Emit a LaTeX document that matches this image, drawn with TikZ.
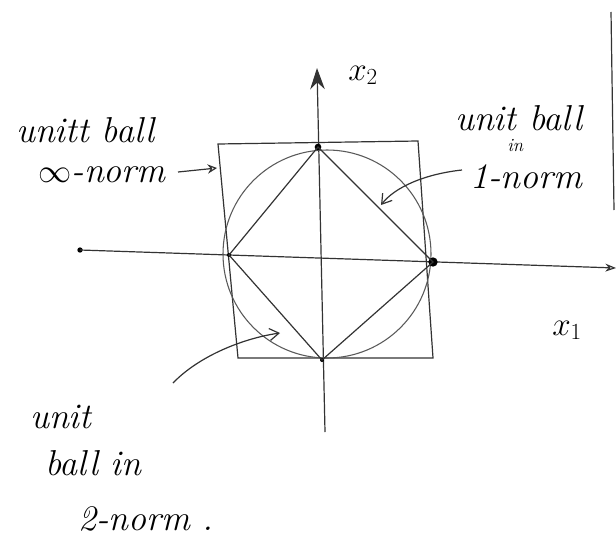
\documentclass[tikz,border=0pt]{standalone}
\usetikzlibrary{arrows.meta}
\begin{document}
\begin{tikzpicture}[x=0.75pt,y=-0.75pt,
  ink/.style={draw=black!80, line width=0.9pt},
  lbl/.style={font=\fontsize{27}{30}\selectfont\itshape, inner sep=0pt, anchor=base west},
  pt/.style={circle, fill=black, inner sep=0pt, minimum size=5pt}]
\useasboundingbox (0,0) rectangle (616,542);
% axes
\coordinate (xs) at (80,250);
\coordinate (xe) at (616,268);
\coordinate (ys) at (325,432);
\coordinate (ye) at (317,68);
\fill (xs) circle (2pt);
\draw[ink, -{Stealth[length=8pt,width=6pt,open]}] (xs) -- (xe);
\draw[ink, -{Stealth[length=16pt,width=11pt]}] (ys) -- (ye);
\node[lbl] (x1) at (552,335) {$x_1$};
\node[lbl] (x2) at (348,80) {$x_2$};
% square (infinity-norm ball)
\coordinate (s1) at (218,144);
\coordinate (s2) at (418,141);
\coordinate (s3) at (433,358);
\coordinate (s4) at (238,358);
\draw[ink] (s1) -- (s2) -- (s3) -- (s4) -- cycle;
% circle (2-norm ball)
\coordinate (c) at (327,254);
\draw[draw=black!65, line width=0.8pt] (c) circle[radius=104];
% diamond (1-norm ball)
\node[pt] (t) at (318,147) {};
\node[pt, minimum size=3pt] (l) at (229,255) {};
\node[pt, minimum size=7pt] (r) at (433,262) {};
\node[pt, minimum size=3pt] (b) at (322,360) {};
\draw[ink] (t.center) -- (r.center) -- (b.center) -- (l.center) -- cycle;
% labels
\node[lbl] (linf1) at (16,142) {unitt ball};
\node[lbl] (linf2) at (38,182) {$\infty$-norm};
\node[lbl] (lone1) at (455,130) {unit ball};
\node[lbl, font=\fontsize{14}{16}\selectfont\itshape] (lone2) at (507,151) {in};
\node[lbl] (lone3) at (470,188) {1-norm};
\node[lbl] (ltwo1) at (30,428) {unit};
\node[lbl] (ltwo2) at (45,475) {ball in};
\node[lbl] (ltwo3) at (78,530) {2-norm .};
% arrows
\coordinate (a1s) at (178,172);
\coordinate (a1e) at (217,168);
\draw[ink, -{Stealth[length=7pt,width=7pt,open]}] (a1s) -- (a1e);
\coordinate (a2s) at (462,170);
\coordinate (a2e) at (381,205);
\draw[ink, -{Straight Barb[length=7pt,width=9pt]}] (a2s) .. controls (425,174) and (395,187) .. (a2e);
\coordinate (a3s) at (173,383);
\coordinate (a3e) at (280,333);
\draw[ink, -{Straight Barb[length=7pt,width=9pt]}] (a3s) .. controls (200,355) and (245,338) .. (a3e);
% right margin line
\coordinate (m1) at (611,12);
\coordinate (m2) at (614,210);
\draw[ink] (m1) -- (m2);
\end{tikzpicture}
\end{document}
